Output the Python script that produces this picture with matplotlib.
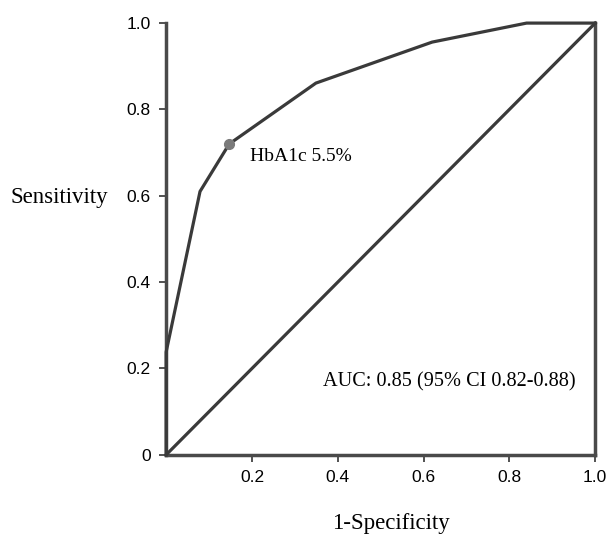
import matplotlib
matplotlib.use("Agg")
import matplotlib.pyplot as plt

fpr = [0.0, 0.0, 0.079, 0.147, 0.349, 0.62, 0.84, 1.0]
tpr = [0.0, 0.238, 0.61, 0.72, 0.861, 0.956, 1.0, 1.0]
cut_x, cut_y = 0.147, 0.72
diag = [0.0, 1.0]
xticks = [0.2, 0.4, 0.6, 0.8, 1.0]
xticklabels = ["0.2", "0.4", "0.6", "0.8", "1.0"]
yticks = [0.0, 0.2, 0.4, 0.6, 0.8, 1.0]
yticklabels = ["0", "0.2", "0.4", "0.6", "0.8", "1.0"]

fig = plt.figure(figsize=(6.13, 5.37), dpi=100)
ax = fig.add_axes([0.271, 0.153, 0.700, 0.804])

lc = "#3a3a3a"
ax.plot(fpr, tpr, color=lc, lw=2.3, solid_joinstyle="miter", clip_on=False, zorder=3)
ax.plot(diag, diag, color=lc, lw=2.3, clip_on=False, zorder=3)
ax.plot([cut_x], [cut_y], "o", color="#7a7a7a", markersize=7, zorder=4, clip_on=False)

ax.set_xlim(0, 1)
ax.set_ylim(0, 1)
for s in ["left", "bottom", "right"]:
    ax.spines[s].set_linewidth(2.5)
    ax.spines[s].set_color("#4a4a4a")
ax.spines["top"].set_visible(False)

ax.set_xticks(xticks)
ax.set_xticklabels(xticklabels, fontfamily="Liberation Sans", fontsize=12.5)
ax.set_yticks(yticks)
ax.set_yticklabels(yticklabels, fontfamily="Liberation Sans", fontsize=12.5)
ax.tick_params(direction="out", length=5, width=1.2, color="#333333", pad=6)

ax.text(0.195, 0.69, "HbA1c 5.5%", fontfamily="Liberation Serif", fontsize=14, va="center", ha="left")
ax.text(0.365, 0.168, "AUC: 0.85 (95% CI 0.82-0.88)", fontfamily="Liberation Serif", fontsize=14.6, va="center", ha="left")

fig.text(10 / 613, 1 - 197 / 537, "Sensitivity", fontfamily="Liberation Serif", fontsize=16.5, va="center", ha="left")
fig.text(391 / 613, 1 - 524 / 537, "1-Specificity", fontfamily="Liberation Serif", fontsize=16.5, va="center", ha="center")

fig.savefig("out.png", dpi=100)
